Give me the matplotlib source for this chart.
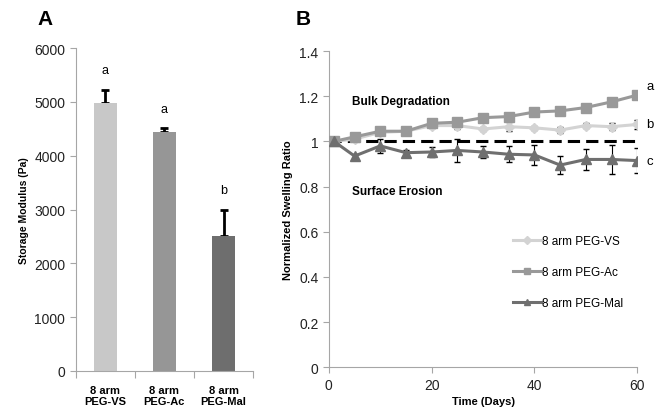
import matplotlib.pyplot as plt

plt.rcParams['font.family'] = ['Liberation Sans', 'DejaVu Sans']

# Panel A data
groups = ['8 arm\nPEG-VS', '8 arm\nPEG-Ac', '8 arm\nPEG-Mal']
modulus = [4980, 4450, 2500]
modulus_err = [250, 60, 500]
sig_letters = ['a', 'a', 'b']
bar_colors = ['#c8c8c8', '#969696', '#6e6e6e']

# Panel B data
days = [1, 5, 10, 15, 20, 25, 30, 35, 40, 45, 50, 55, 60]
vs = [1.0, 1.01, 1.04, 1.045, 1.07, 1.07, 1.055, 1.065, 1.06, 1.05, 1.07, 1.065, 1.075]
vs_err = [0.005, 0.005, 0.01, 0.01, 0.01, 0.015, 0.01, 0.02, 0.01, 0.015, 0.01, 0.015, 0.02]
ac = [1.0, 1.02, 1.045, 1.045, 1.08, 1.085, 1.105, 1.11, 1.13, 1.135, 1.15, 1.175, 1.205]
ac_err = [0.005, 0.005, 0.005, 0.005, 0.01, 0.01, 0.005, 0.01, 0.005, 0.005, 0.005, 0.005, 0.005]
mal = [1.0, 0.935, 0.98, 0.95, 0.953, 0.96, 0.953, 0.943, 0.94, 0.895, 0.92, 0.92, 0.915]
mal_err = [0.005, 0.01, 0.03, 0.01, 0.02, 0.05, 0.025, 0.035, 0.045, 0.04, 0.045, 0.065, 0.055]
series_names = ['8 arm PEG-VS', '8 arm PEG-Ac', '8 arm PEG-Mal']
series_colors = ['#d3d3d3', '#999999', '#6f6f6f']
series_markers = ['D', 's', '^']
end_letters = ['a', 'b', 'c']

fig = plt.figure(figsize=(6.59, 4.10), dpi=100)
axA = fig.add_axes([0.115, 0.093, 0.269, 0.787])
axB = fig.add_axes([0.499, 0.102, 0.468, 0.771])

gray = '#a6a6a6'
for ax in (axA, axB):
    for s in ('top', 'right'):
        ax.spines[s].set_visible(False)
    for s in ('left', 'bottom'):
        ax.spines[s].set_color(gray)
    ax.tick_params(colors=gray, labelcolor='#222222', labelsize=10, length=4)

# ---- Panel A
x = range(len(groups))
axA.bar(x, modulus, width=0.4, color=bar_colors, zorder=2)
# error bars behind the bars so only the upper half shows
axA.errorbar(x, modulus, yerr=[[0] * 3, modulus_err], fmt='none', ecolor='black',
             elinewidth=2, capsize=3, capthick=2, zorder=1)
for i, (v, e, l) in enumerate(zip(modulus, modulus_err, sig_letters)):
    axA.text(i, v + e + 250, l, ha='center', va='bottom', fontsize=9)
axA.set_xlim(-0.5, 2.5)
axA.set_ylim(0, 6000)
axA.set_yticks(range(0, 6001, 1000))
axA.set_xticks([-0.5, 0.5, 1.5, 2.5])
axA.set_xticklabels([])
axA.tick_params(axis='x', length=5)
for i, g in enumerate(groups):
    axA.text(i, -270, g, ha='center', va='top', fontsize=8, fontweight='bold',
             linespacing=1.1)
axA.set_ylabel('Storage Modulus (Pa)', fontsize=7.5, fontweight='bold')
fig.text(0.057, 0.975, 'A', fontsize=15, fontweight='bold', va='top')

# ---- Panel B
axB.plot([0, 60], [1, 1], ls=(0, (4, 2)), color='black', lw=2.2, zorder=1)
for y, e, name, c, m in zip([vs, ac, mal], [vs_err, ac_err, mal_err],
                            series_names, series_colors, series_markers):
    axB.errorbar(days, y, yerr=e, fmt='none', ecolor='black', elinewidth=0.8,
                 capsize=2.5, zorder=2)
    axB.plot(days, y, color=c, marker=m, markersize=7 if m != 'D' else 5.5,
             lw=2.2, label=name, zorder=3)
for letter, y in zip(end_letters, [ac[-1], vs[-1], mal[-1]]):
    axB.text(62.5, y + (0.04 if letter == 'a' else 0.0), letter, fontsize=9.5,
             va='center', ha='center', clip_on=False)
axB.text(4.5, 1.18, 'Bulk Degradation', fontsize=8.5, fontweight='bold', va='center')
axB.text(4.5, 0.78, 'Surface Erosion', fontsize=8.5, fontweight='bold', va='center')
axB.set_xlim(0, 60)
axB.set_ylim(0, 1.4)
axB.set_xticks([0, 20, 40, 60])
axB.set_yticks([0, 0.2, 0.4, 0.6, 0.8, 1.0, 1.2, 1.4])
axB.set_yticklabels(['0', '0.2', '0.4', '0.6', '0.8', '1', '1.2', '1.4'])
axB.set_xlabel('Time (Days)', fontsize=8, fontweight='bold', labelpad=3)
axB.set_ylabel('Normalized Swelling Ratio', fontsize=8, fontweight='bold')
axB.legend(loc='lower right', bbox_to_anchor=(0.99, 0.15), frameon=False,
           fontsize=8.5, labelspacing=1.6, handlelength=2.4, handletextpad=0.1,
           markerscale=0.7)
fig.text(0.448, 0.975, 'B', fontsize=15, fontweight='bold', va='top')

fig.savefig('out.png', dpi=100)
